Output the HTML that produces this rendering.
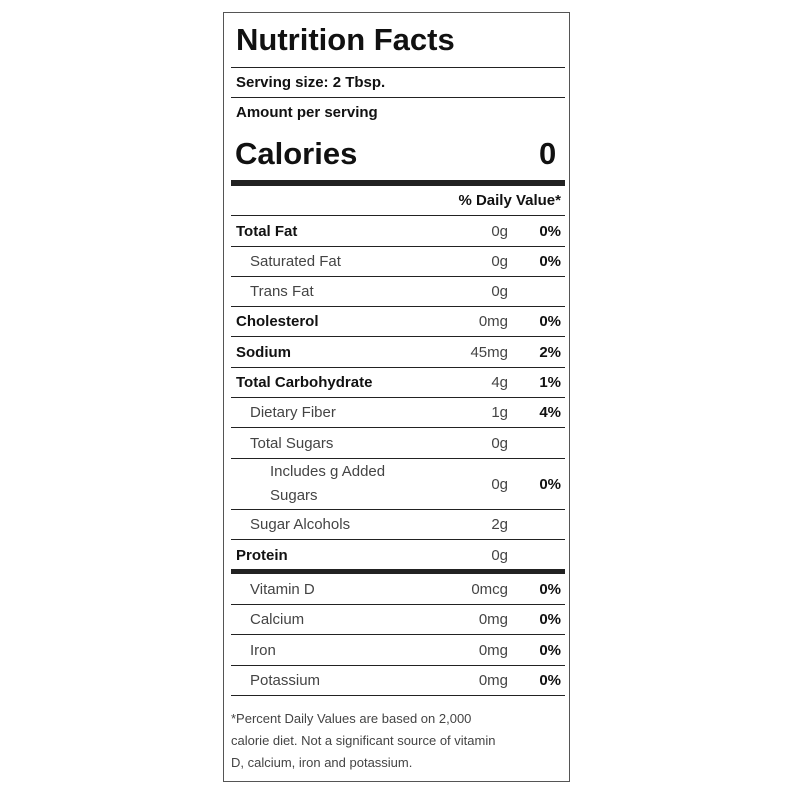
<!DOCTYPE html>
<html><head><style>
body{margin:0;background:#fff;width:800px;height:800px;position:relative;font-family:"Liberation Sans",sans-serif;color:#111;overflow:hidden}
.box{position:absolute;left:223px;top:12px;width:347px;height:770px;border:1.5px solid #555;box-sizing:border-box}
.ab{position:absolute;white-space:nowrap}
.hl{position:absolute;left:231px;width:334px;height:1px;background:#222}
.row{position:absolute;left:231px;width:334px;display:flex;align-items:center;font-size:15px;box-sizing:border-box;border-bottom:1px solid #222}
.row .n{flex:1;padding-left:5px}
.row .v{width:80px;text-align:right;color:#444;font-weight:normal}
.row .p{width:53px;text-align:right;font-weight:bold;padding-right:4px}
.b{font-weight:bold}
.i{padding-left:19px!important;color:#444}
.i2{padding-left:39px!important;color:#444;line-height:24px}
</style></head><body>
<div class="box"></div>
<div class="ab b" style="left:236px;top:22px;font-size:31px">Nutrition Facts</div>
<div class="hl" style="top:67px"></div>
<div class="ab b" style="left:236px;top:74px;font-size:15px">Serving size: 2 Tbsp.</div>
<div class="hl" style="top:97px"></div>
<div class="ab b" style="left:236px;top:104px;font-size:15px">Amount per serving</div>
<div class="ab b" style="left:235px;top:136px;font-size:31px">Calories</div>
<div class="ab b" style="left:539px;top:136px;font-size:31px">0</div>
<div class="hl" style="top:180px;height:6px"></div>
<div class="ab b" style="right:239px;top:192px;font-size:15px">% Daily Value*</div>
<div class="hl" style="top:215px"></div>
<div class="row" style="top:216px;height:31px"><span class="n b">Total Fat</span><span class="v">0g</span><span class="p">0%</span></div>
<div class="row" style="top:247px;height:30px"><span class="n i">Saturated Fat</span><span class="v">0g</span><span class="p">0%</span></div>
<div class="row" style="top:277px;height:30px"><span class="n i">Trans Fat</span><span class="v">0g</span><span class="p"></span></div>
<div class="row" style="top:307px;height:30px"><span class="n b">Cholesterol</span><span class="v">0mg</span><span class="p">0%</span></div>
<div class="row" style="top:337px;height:31px"><span class="n b">Sodium</span><span class="v">45mg</span><span class="p">2%</span></div>
<div class="row" style="top:368px;height:30px"><span class="n b">Total Carbohydrate</span><span class="v">4g</span><span class="p">1%</span></div>
<div class="row" style="top:398px;height:30px"><span class="n i">Dietary Fiber</span><span class="v">1g</span><span class="p">4%</span></div>
<div class="row" style="top:428px;height:31px"><span class="n i">Total Sugars</span><span class="v">0g</span><span class="p"></span></div>
<div class="row" style="top:459px;height:51px"><span class="n i2">Includes g Added<br>Sugars</span><span class="v">0g</span><span class="p">0%</span></div>
<div class="row" style="top:510px;height:30px"><span class="n i">Sugar Alcohols</span><span class="v">2g</span><span class="p"></span></div>
<div class="row" style="top:540px;height:30px;border:none"><span class="n b">Protein</span><span class="v">0g</span><span class="p"></span></div>
<div class="hl" style="top:569px;height:5px"></div>
<div class="row" style="top:574px;height:31px"><span class="n i">Vitamin D</span><span class="v">0mcg</span><span class="p">0%</span></div>
<div class="row" style="top:605px;height:30px"><span class="n i">Calcium</span><span class="v">0mg</span><span class="p">0%</span></div>
<div class="row" style="top:635px;height:31px"><span class="n i">Iron</span><span class="v">0mg</span><span class="p">0%</span></div>
<div class="row" style="top:666px;height:30px"><span class="n i">Potassium</span><span class="v">0mg</span><span class="p">0%</span></div>
<div class="ab" style="left:231px;top:708px;font-size:13px;line-height:22px;color:#444">*Percent Daily Values are based on 2,000<br>calorie diet. Not a significant source of vitamin<br>D, calcium, iron and potassium.</div>
</body></html>
